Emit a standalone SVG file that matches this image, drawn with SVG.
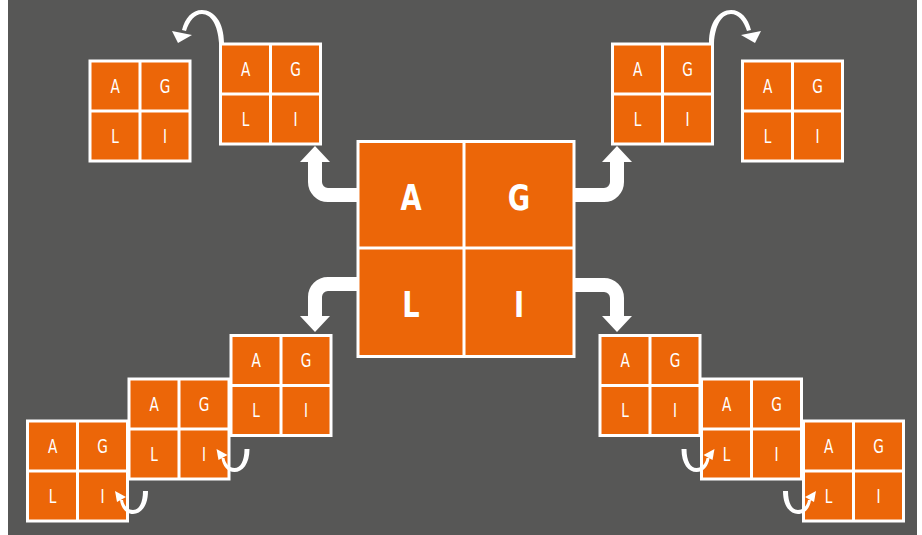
<svg xmlns="http://www.w3.org/2000/svg" width="922" height="535" viewBox="0 0 922 535">
<style>
.bg{fill:#575756}
.box{fill:#EC6608;stroke:#fff;stroke-width:3}
.div{stroke:#fff;stroke-width:3;fill:none}
.t{font-family:"DejaVu Sans","Liberation Sans",sans-serif;font-size:19px;fill:#fff;text-anchor:middle;transform-box:fill-box;transform-origin:center;transform:scaleX(0.72)}
.tb{font-family:"DejaVu Sans","Liberation Sans",sans-serif;font-weight:bold;font-size:35px;fill:#fff;text-anchor:middle;transform-box:fill-box;transform-origin:center;transform:scaleX(0.78)}
.thick{fill:none;stroke:#fff;stroke-width:14}
.wf{fill:#fff}
</style>
<rect width="922" height="535" fill="#fff"/>
<rect class="bg" x="8" y="0" width="909" height="535"/>

<g id="center">
<rect class="box" x="358" y="141.5" width="216" height="215"/>
<path class="div" d="M464,141.5V356.5M358,248H574"/>
<text class="tb" x="411" y="210">A</text>
<text class="tb" x="519" y="210">G</text>
<text class="tb" x="411" y="317">L</text>
<text class="tb" x="519" y="317">I</text>
</g>

<g id="tl1" transform="translate(90,61)">
<rect class="box" width="100" height="100"/><path class="div" d="M50,0V100M0,50H100"/>
<text class="t" x="25" y="32">A</text><text class="t" x="75" y="32">G</text><text class="t" x="25" y="82">L</text><text class="t" x="75" y="82">I</text>
</g>
<g id="tl2" transform="translate(220.5,44)">
<rect class="box" width="100" height="100"/><path class="div" d="M50,0V100M0,50H100"/>
<text class="t" x="25" y="32">A</text><text class="t" x="75" y="32">G</text><text class="t" x="25" y="82">L</text><text class="t" x="75" y="82">I</text>
</g>
<g id="tr1" transform="translate(612.5,44)">
<rect class="box" width="100" height="100"/><path class="div" d="M50,0V100M0,50H100"/>
<text class="t" x="25" y="32">A</text><text class="t" x="75" y="32">G</text><text class="t" x="25" y="82">L</text><text class="t" x="75" y="82">I</text>
</g>
<g id="tr2" transform="translate(742.5,61)">
<rect class="box" width="100" height="100"/><path class="div" d="M50,0V100M0,50H100"/>
<text class="t" x="25" y="32">A</text><text class="t" x="75" y="32">G</text><text class="t" x="25" y="82">L</text><text class="t" x="75" y="82">I</text>
</g>

<g id="bl1" transform="translate(27.5,421)">
<rect class="box" width="100" height="100"/><path class="div" d="M50,0V100M0,50H100"/>
<text class="t" x="25" y="32">A</text><text class="t" x="75" y="32">G</text><text class="t" x="25" y="82">L</text><text class="t" x="75" y="82">I</text>
</g>
<g id="bl2" transform="translate(129,379)">
<rect class="box" width="100" height="100"/><path class="div" d="M50,0V100M0,50H100"/>
<text class="t" x="25" y="32">A</text><text class="t" x="75" y="32">G</text><text class="t" x="25" y="82">L</text><text class="t" x="75" y="82">I</text>
</g>
<g id="bl3" transform="translate(231,335.5)">
<rect class="box" width="100" height="100"/><path class="div" d="M50,0V100M0,50H100"/>
<text class="t" x="25" y="32">A</text><text class="t" x="75" y="32">G</text><text class="t" x="25" y="82">L</text><text class="t" x="75" y="82">I</text>
</g>

<g id="br1" transform="translate(600,335.5)">
<rect class="box" width="100" height="100"/><path class="div" d="M50,0V100M0,50H100"/>
<text class="t" x="25" y="32">A</text><text class="t" x="75" y="32">G</text><text class="t" x="25" y="82">L</text><text class="t" x="75" y="82">I</text>
</g>
<g id="br2" transform="translate(701.5,379)">
<rect class="box" width="100" height="100"/><path class="div" d="M50,0V100M0,50H100"/>
<text class="t" x="25" y="32">A</text><text class="t" x="75" y="32">G</text><text class="t" x="25" y="82">L</text><text class="t" x="75" y="82">I</text>
</g>
<g id="br3" transform="translate(803.5,421)">
<rect class="box" width="100" height="100"/><path class="div" d="M50,0V100M0,50H100"/>
<text class="t" x="25" y="32">A</text><text class="t" x="75" y="32">G</text><text class="t" x="25" y="82">L</text><text class="t" x="75" y="82">I</text>
</g>

<g id="connectors">
<path class="thick" d="M357,195H328A13,13 0 0 1 315,182V160"/>
<polygon class="wf" points="300,162 330,162 315,146"/>
<path class="thick" d="M575,195H604A13,13 0 0 0 617,182V160"/>
<polygon class="wf" points="602,162 632,162 617,146"/>
<path class="thick" d="M357,284H328A13,13 0 0 0 315,297V318"/>
<polygon class="wf" points="300,316 330,316 315,332"/>
<path class="thick" d="M575,285H604A13,13 0 0 1 617,298V318"/>
<polygon class="wf" points="602,316 632,316 617,332"/>

<g id="arcTL">
<path class="wf" d="M224,43C224,22 214,10 202,10C192,10 185,18 182,30L186,31C189,21 195,14 202,14C211,14 218,25 219,43Z"/>
<polygon class="wf" points="172,31 192,35 178,43"/>
</g>
<g id="arcTR" transform="translate(933,0) scale(-1,1)">
<path class="wf" d="M224,43C224,22 214,10 202,10C192,10 185,18 182,30L186,31C189,21 195,14 202,14C211,14 218,25 219,43Z"/>
<polygon class="wf" points="172,31 192,35 178,43"/>
</g>

<g id="uBL1">
<path class="wf" d="M148,491C148,506 141,514 133,514C126,514 121,508 120,500L123,500C124,506 128,510 133,510C139,510 143,503 143,491Z"/>
<polygon class="wf" points="115,491 117,502 126,497"/>
</g>
<g id="uBL2" transform="translate(101.5,-42)">
<path class="wf" d="M148,491C148,506 141,514 133,514C126,514 121,508 120,500L123,500C124,506 128,510 133,510C139,510 143,503 143,491Z"/>
<polygon class="wf" points="115,491 117,502 126,497"/>
</g>
<g id="uBR3" transform="translate(931,0) scale(-1,1)">
<path class="wf" d="M148,491C148,506 141,514 133,514C126,514 121,508 120,500L123,500C124,506 128,510 133,510C139,510 143,503 143,491Z"/>
<polygon class="wf" points="115,491 117,502 126,497"/>
</g>
<g id="uBR2" transform="translate(829.5,-42) scale(-1,1)">
<path class="wf" d="M148,491C148,506 141,514 133,514C126,514 121,508 120,500L123,500C124,506 128,510 133,510C139,510 143,503 143,491Z"/>
<polygon class="wf" points="115,491 117,502 126,497"/>
</g>
</g>
</svg>
